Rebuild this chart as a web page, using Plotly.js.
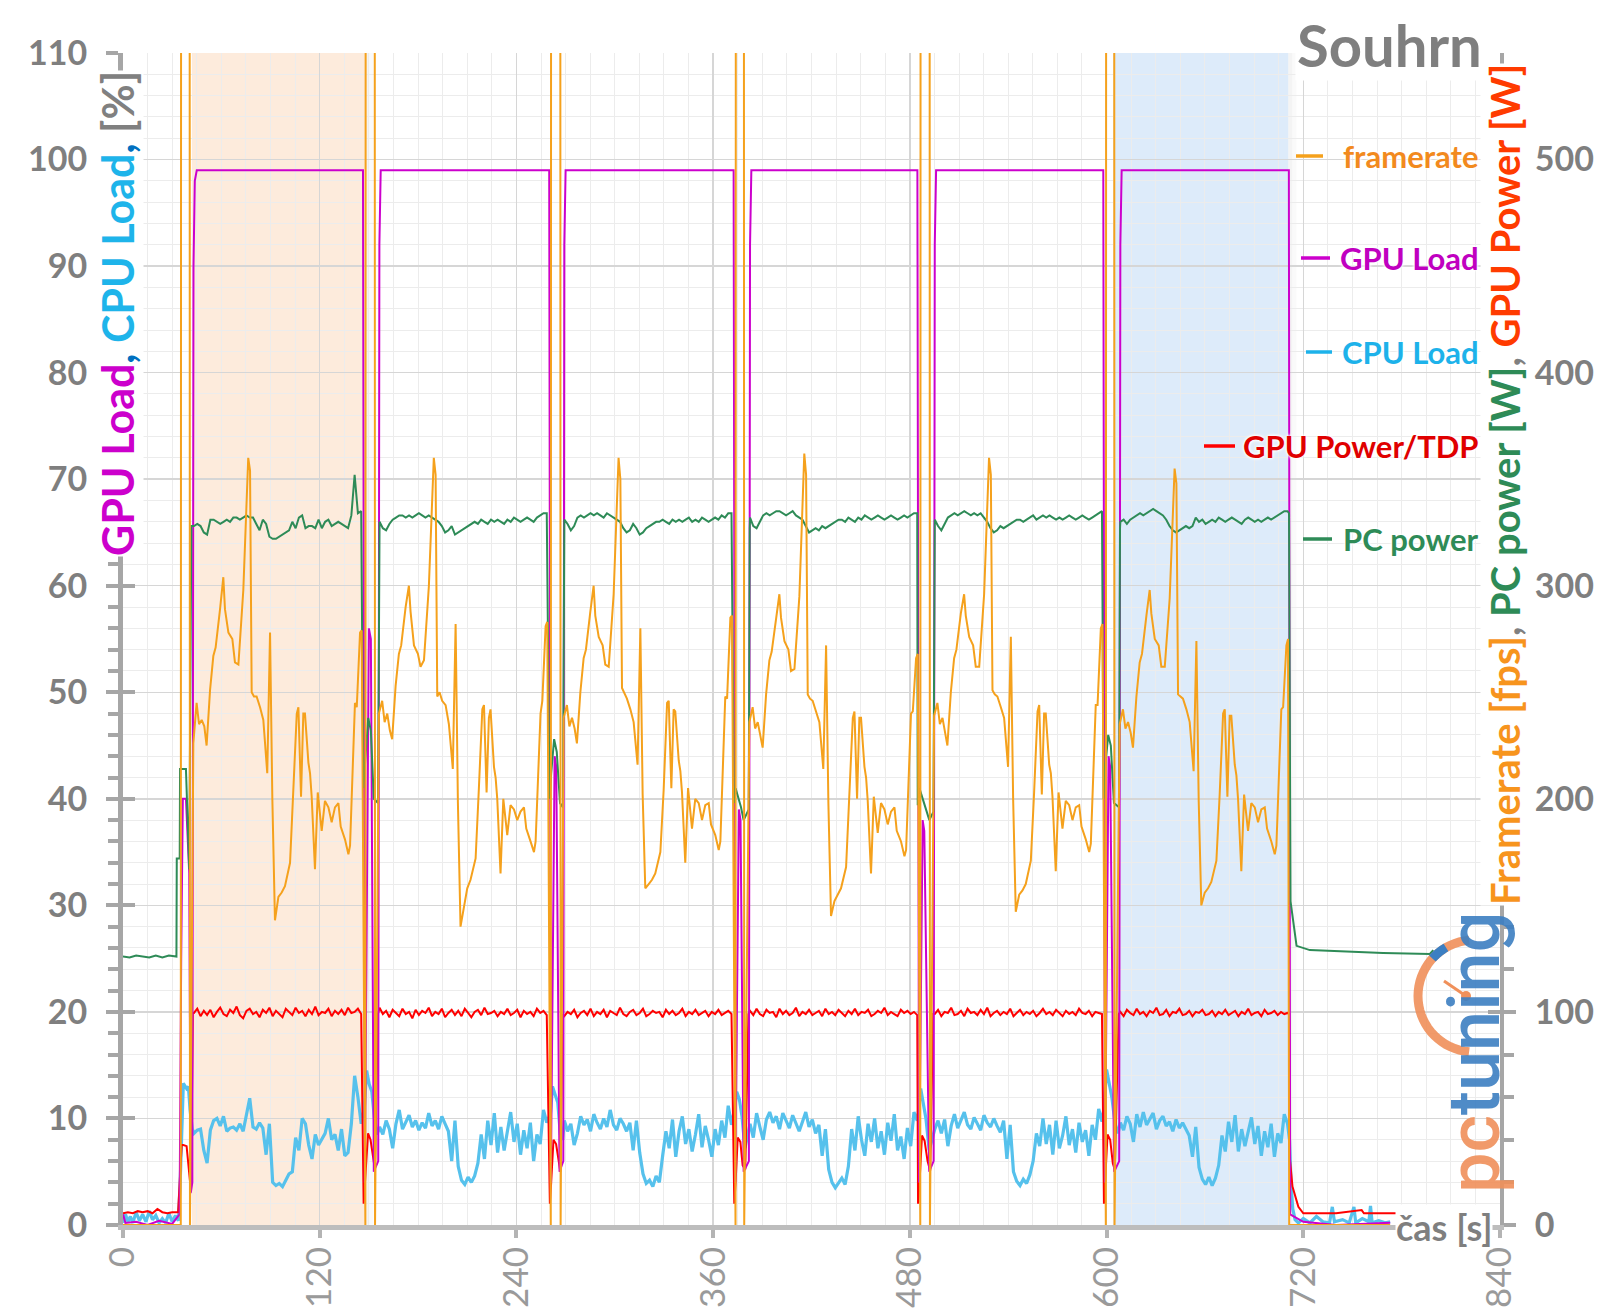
<!DOCTYPE html>
<html><head><meta charset="utf-8">
<script src="https://cdn.plot.ly/plotly-3.0.1.min.js"></script>
<style>html,body{margin:0;padding:0;background:#fff}#chart{width:1600px;height:1313px}</style>
</head><body><div id="chart"></div>
<script>
// ---------------- DATA ----------------
// time axis ticks
const xTicks = [0, 120, 240, 360, 480, 600, 720, 840];
// benchmark runs: GPU-load plateau start / end [s]
const runStart = [43.3, 156.5, 269.2, 382.5, 495.2, 608.4];
const runEnd = [146.4, 260.0, 372.5, 484.6, 598.0, 711.2];
// loading screens: framerate jumps far above the scale
const spikeOn = [35.4, 148.0, 261.1, 373.8, 486.5, 599.7];
const spikeOff = [40.7, 153.6, 266.8, 378.8, 492.1, 604.7];
const loadingFps = [1000, 1000, 1000, 1000, 1000, 1000];
// shaded runs
const shadeOrange = [42, 147.8];
const shadeBlue = [604, 710.8];

// framerate vertices: seconds after run start, and fps per run
const fpsOff = [-0.4,1.6,3.1,4.7,6.3,7.7,9.8,11.8,13.2,15.9,17.9,18.9,21.0,23.4,25.0,27.1,30.1,33.1,34.2,35.2,36.6,38.2,40.3,42.3,44.7,46.4,47.8,49.4,51.5,53.5,55.5,58.6,60.6,62.7,63.7,65.3,66.7,67.7,69.8,70.8,71.8,73.8,75.5,77.9,79.9,82.0,84.0,86.0,88.1,89.5,92.1,94.2,95.2,98.2,99.3,101.3,102.3];
const fps1 = [226,245,235,237,234,225,251,267,271,289,304,289,278,275,264,263,298,360,354,250,248,248,243,237,212,278,200,143,154,156,159,170,201,240,243,201,240,240,217,212,201,167,203,185,199,196,189,196,198,187,181,174,178,245,243,278,279];
const fps2 = [240,246,236,240,232,228,253,268,272,290,300,288,272,268,262,265,300,360,352,248,250,246,244,235,214,282,198,140,150,158,162,172,205,242,244,203,238,242,215,210,200,165,200,183,197,195,190,194,196,186,180,175,180,240,246,281,283];
const fps3 = [238,244,234,238,233,226,250,266,270,288,300,286,276,272,263,262,296,360,350,252,250,247,242,236,216,280,202,158,160,162,165,175,204,245,246,205,242,241,218,213,203,170,205,186,200,198,190,197,198,188,183,176,180,248,247,285,286];
const fps4 = [236,243,233,236,230,224,249,265,269,286,296,285,274,270,260,261,295,362,352,249,247,246,241,236,214,272,198,145,152,155,158,168,200,238,241,200,238,238,215,210,199,165,201,184,198,195,188,194,196,185,180,173,176,240,241,266,268];
const fps5 = [239,245,235,238,232,225,250,266,270,287,296,286,276,272,262,262,296,360,352,251,249,248,243,238,215,276,200,147,155,157,160,171,203,241,244,202,240,240,216,212,201,166,203,186,199,197,190,196,197,187,181,175,179,244,244,280,282];
const fps6 = [235,242,233,236,231,224,248,264,268,286,298,287,275,272,262,262,294,355,348,249,248,247,242,236,213,274,199,150,156,158,161,171,202,240,242,201,239,239,216,211,200,166,202,185,198,196,189,195,196,186,180,174,178,242,243,272,275];
const fpsEndT = [711.4, 773];
const fpsEndV = [0, 0];

// GPU load [%]
const gpuLoadT = [0,1.5,8,15,22,30,33.5,34.5,35.5,36.5,38.4,40.4,41.3,42.3,43.0,43.8,45,
  146.4,147.5,150.0,151.2,153.0,155.7,156.4,157.2,
  260.0,261.0,263.3,264.3,266.3,268.6,269.2,270.0,
  372.5,373.5,375.7,376.7,378.6,381.8,382.5,383.3,
  484.6,485.6,487.8,488.8,491.8,494.5,495.2,496.0,
  598.0,599.0,601.2,602.2,604.6,607.7,608.4,609.2,
  711.2,712.0,720,740,773];
const gpuLoadV = [1.0,0.2,0.3,0,0.4,0.1,0.8,1.0,25,40,40,33,3,4,90,98,99,
  99,4,56,55,5,6,92,99,
  99,4,44,43,5,6,92,99,
  99,4,39,38,5,6,92,99,
  99,4,38,37,5,6,92,99,
  99,4,44,43,5,6,92,99,
  99,1,0.3,0,0.2];

// PC power [W], 2 s samples from run start
const pc1 = [328,329,328,325,324,331,331,330,329,330,331,330,332,332,331,332,333,332,332,329,326,331,329,323,322,322,323,324,325,326,330,327,332,333,327,328,328,327,331,327,330,331,328,329,330,329,328,327,333,352,334,335];
const pc2 = [330,327,326,329,331,332,333,333,332,333,332,333,334,333,332,333,332,331,330,328,325,326,328,324,325,326,327,328,329,330,329,331,330,329,331,330,331,330,329,331,330,332,331,330,331,332,331,330,332,333,334,334];
const pc3 = [331,329,326,328,332,333,332,333,334,333,334,333,332,334,333,332,331,330,327,325,326,329,327,324,325,327,328,329,330,330,331,330,329,331,330,331,330,331,332,330,331,330,332,331,330,331,332,331,333,332,334,334];
const pc4 = [332,328,327,330,333,334,333,334,335,335,334,333,334,335,333,332,331,328,325,326,327,326,328,327,328,329,330,331,331,330,332,331,330,332,331,333,332,331,332,333,332,331,332,333,332,331,332,333,332,333,334,334];
const pc5 = [331,328,326,329,332,333,334,333,334,335,334,333,334,333,334,332,330,327,325,326,328,327,328,329,330,331,331,330,331,332,333,331,332,333,332,333,332,331,332,331,332,333,332,331,332,333,332,331,332,333,334,335];
const pc6 = [330,331,329,331,332,333,334,333,334,335,336,335,334,333,331,328,326,325,326,327,328,327,328,332,330,331,329,330,331,330,332,331,330,331,332,331,330,329,331,332,331,330,331,330,331,332,331,332,333,334,335,335];
const pcIdleT = [0,4,8,12,16,20,24,28,32.6,32.8,34.6,34.8,38.4,40.4,41.7];
const pcIdleV = [126,125.5,126.5,126,125.5,126.5,125.5,126.5,126,172,172,214,214,167,328];
const pcGapT = [[146.6,147.6,149.6,151.2,153.0,155.6,156.2],[260.2,261.2,263.0,264.6,266.6,268.4,269.0],[372.7,373.7,375.5,377.0,378.6,381.7,382.3],[484.8,485.8,487.8,489.5,491.9,494.4,495.0],[598.2,599.2,601.0,602.6,604.5,607.6,608.2]];
const pcGapV = [[205,215,238,232,200,198,327],[200,212,228,222,198,196,326],[198,205,200,196,190,195,327],[197,205,200,195,190,194,326],[200,215,230,225,198,196,327]];
const pcEndT = [711.3,712.2,714.2,715.9,724,744.3,768.7,797.2,799.3];
const pcEndV = [334,152,140,131,129,128.3,127.7,127.2,129];

// CPU load [%], 2 s samples from run start
const cpu1 = [8.6,8.9,9.0,7.0,5.8,8.9,9.8,10.0,9.3,10.2,8.8,9.1,9.2,8.9,9.5,8.8,10.3,11.9,9.2,9.0,9.6,9.1,6.6,9.5,4.0,3.7,3.9,3.6,4.2,4.8,5.0,8.2,7.0,10.0,9.5,7.5,6.2,8.5,7.5,8.0,8.6,10.0,8.0,8.5,7.0,9.0,6.5,6.8,9.5,14.0,12.0,9.5];
const cpu2 = [9.2,8.5,9.8,9.0,7.2,9.5,10.8,9.0,9.6,10.3,9.2,9.8,8.9,9.6,9.1,10.5,9.3,9.8,9.0,10.2,9.5,8.8,6.0,9.8,5.5,4.2,3.8,4.5,4.0,4.6,5.8,8.5,6.2,9.8,7.5,10.5,6.8,9.2,7.0,8.8,10.6,7.8,9.5,6.6,8.9,7.2,9.6,6.0,8.5,7.6,10.8,9.6];
const cpu3 = [9.8,8.8,9.5,7.5,8.6,10.2,9.4,9.9,8.8,10.4,9.6,9.0,10.0,9.2,10.8,9.4,8.9,10.0,9.5,8.8,9.6,7.0,9.8,6.8,4.8,3.9,4.2,3.6,4.6,4.0,6.5,8.8,7.2,9.9,6.4,8.8,10.2,7.6,9.0,6.9,8.5,10.4,7.3,9.3,8.0,6.4,9.0,7.5,9.8,8.2,11.2,9.4];
const cpu4 = [9.5,8.2,10.5,9.2,8.0,9.9,10.6,9.6,10.2,9.0,10.5,9.8,9.1,10.3,9.5,8.8,9.7,10.6,9.2,9.9,8.6,9.4,6.5,9.0,5.2,4.0,3.5,3.9,4.4,3.8,5.5,9.0,7.0,10.2,8.0,6.5,9.5,7.8,10.0,7.2,8.8,6.6,9.6,7.9,10.4,7.0,8.3,6.2,9.1,7.4,10.6,9.8];
const cpu5 = [9.0,9.8,8.6,9.9,7.4,9.3,10.4,9.1,9.8,10.6,9.4,9.0,10.1,9.5,8.9,10.3,9.6,9.2,10.0,9.3,8.7,9.8,6.2,9.4,5.0,4.1,3.7,4.3,3.9,4.7,6.0,8.6,7.4,10.0,7.6,9.4,6.6,9.8,7.2,8.4,10.2,7.5,9.0,6.8,9.6,7.8,8.9,6.5,9.4,8.0,10.9,9.7];
const cpu6 = [9.6,8.9,10.2,9.5,7.8,10.4,9.2,10.6,9.4,9.9,10.5,9.0,9.8,10.2,9.3,9.7,8.8,9.9,9.1,9.6,9.0,8.4,6.4,9.2,5.4,4.3,3.8,4.5,3.7,4.4,5.6,8.4,6.9,9.7,7.8,10.3,6.9,9.0,7.4,8.7,10.1,7.6,9.3,6.5,8.8,7.3,9.5,6.4,8.6,7.7,10.4,9.5];
const cpuIdleT = [0,1.5,3,4.5,6,8,10,12,14,16,18,20,22,24,26,28,30,32,33.8,34.8,36.8,38.8,39.9,40.9,42.3];
const cpuIdleV = [0.2,1.0,0.3,0.8,0.2,1.2,0.4,1.0,0.3,1.3,0.5,0.9,0.2,0.6,0.2,1.1,0.3,0.9,0.4,3.6,13.3,12.8,13.0,10.8,9.0];
const cpuGapT = [[147.2,148.6,150.2,151.8,153.4,155.0],[260.8,262.0,263.6,265.2,266.8,268.2],[373.0,374.4,376.0,377.6,379.4,381.2],[485.2,486.6,488.2,489.8,491.8,493.8],[598.6,600.0,601.6,603.2,605.2,607.0]];
const cpuGapV = [[11,14.5,13.2,12.5,10.0,8.5],[10.5,13.0,12.2,11.5,8.5,8.0],[10.8,12.5,11.8,10.2,7.2,8.4],[10.6,12.8,11.4,10.0,7.0,8.2],[11.2,14.6,13.4,12.0,9.5,8.6]];
const cpuEndT = [711.6,712.6,713.6,715,717,720,724,728,732,736,737.7,739,744,748,750.9,752,756,760,761,762,766,770,773];
const cpuEndV = [8,3.6,1.5,0.5,0.2,0.6,0.2,0.8,0.3,0.2,1.7,0.3,0.5,0.2,1.7,0.2,0.6,0.3,1.8,0.2,0.4,0.2,0.3];

// GPU power / TDP [%], 2 s samples from run start
const gp1 = [19.9,20.3,19.6,20.1,19.7,20.2,19.5,20.0,20.4,19.8,19.6,20.2,19.9,20.5,19.7,19.4,20.1,20.3,19.8,20.0,19.5,20.2,19.9,20.4,19.6,20.1,19.8,19.5,20.3,20.0,19.7,20.4,19.9,20.1,19.6,20.2,19.8,20.5,19.7,20.0,19.9,20.3,19.6,20.1,19.8,20.2,19.7,20.4,19.9,20.0,20.3,19.8];
const gp2 = [20.4,19.8,20.1,19.5,20.2,19.9,19.6,20.3,19.8,20.0,19.4,20.2,19.7,20.1,19.9,20.4,19.6,20.0,19.8,20.3,19.5,19.9,20.2,19.7,20.1,19.6,20.3,19.9,19.5,20.0,20.2,19.7,20.4,19.8,19.9,20.1,19.6,20.0,19.8,20.3,19.7,19.9,20.2,19.5,20.1,19.8,20.0,19.6,20.3,19.9,20.1,19.7];
const gp3 = [19.6,20.0,19.8,20.2,19.5,19.9,20.1,19.7,20.3,19.6,20.0,19.8,20.2,19.5,20.1,19.9,19.7,20.4,19.8,19.6,20.0,20.2,19.7,19.9,20.3,19.6,19.8,20.1,19.9,20.0,19.5,20.2,19.8,20.1,19.7,19.9,20.3,19.6,20.0,19.8,20.2,19.7,19.9,20.1,19.6,20.0,19.8,20.2,19.7,19.9,20.1,19.8];
const gp4 = [20.1,19.7,20.3,19.8,19.6,20.2,19.9,20.0,19.5,20.3,19.8,20.1,19.7,19.9,20.4,19.6,20.0,19.8,20.2,19.7,19.9,20.1,19.6,20.3,19.8,20.0,19.7,20.2,19.9,19.6,20.1,19.8,20.3,19.7,20.0,19.9,20.2,19.6,19.8,20.1,19.9,20.4,19.7,20.0,19.8,19.6,20.2,19.9,20.1,19.8,20.0,19.7];
const gp5 = [19.8,20.2,19.6,20.0,19.9,20.4,19.7,19.8,20.1,19.6,20.3,19.9,20.0,19.7,20.2,19.8,20.4,19.6,19.9,20.1,19.7,20.0,19.8,20.3,19.6,19.9,20.2,19.7,20.0,19.8,20.1,19.6,19.9,20.3,19.8,20.0,19.7,20.2,19.9,19.6,20.1,19.8,20.0,19.7,20.3,19.9,19.8,20.1,19.6,20.0,19.9,19.8];
const gp6 = [20.0,19.6,20.2,19.9,19.7,20.3,19.8,20.0,19.6,20.1,19.9,20.4,19.7,19.8,20.2,19.6,20.0,19.9,20.3,19.7,19.8,20.1,19.6,20.0,19.9,20.2,19.7,19.8,20.1,19.6,20.0,19.8,20.2,19.7,19.9,20.1,19.6,20.0,19.8,20.3,19.7,19.9,20.0,19.6,20.2,19.8,19.9,20.1,19.7,20.0,19.8,19.9];
const gpIdleT = [0,3,6,9,12,15,18,21,24,27,30,33.6,35.8,36.8,38.8,41.5,42.6];
const gpIdleV = [1.1,1.2,1.1,1.3,1.2,1.3,1.1,1.5,1.2,1.1,1.2,1.2,7.5,7.5,7.4,3.1,19.9];
const gpGapT = [[146.8,147.6,149.5,151.0,152.7,153.7,155.5],[260.4,261.2,262.6,264.2,265.8,266.8,268.2],[372.9,373.7,375.0,376.6,378.0,379.6,381.5],[485.0,485.9,487.4,489.0,490.8,492.4,494.2],[598.4,599.2,600.6,602.2,603.8,605.0,607.4]];
const gpGapV = [[2,4,8.6,8.0,6.0,5.2,19.8],[2,4,8.0,7.6,5.8,5.0,19.8],[2,4,8.2,7.8,5.6,5.2,19.8],[2,4,8.4,7.9,6.0,5.1,19.8],[2,4,8.5,8.0,5.8,5.2,19.8]];
const gpEndT = [711.4,711.9,713.4,717,720,730,740,755.6,757,765,773,785,799];
const gpEndV = [19.8,6.1,3.6,1.7,1.1,1.1,1.1,1.4,1.1,1.1,1.1,1.1,1.1];

// ---------------- BUILD SERIES ----------------
const STEP = 2;
function sampled(runs, idleT, idleV, gapT, gapV, endT, endV) {
  const x = [...idleT], y = [...idleV];
  runs.forEach((vals, k) => {
    vals.forEach((v, i) => { x.push(runStart[k] + i * STEP); y.push(v); });
    if (k < gapT.length) { x.push(...gapT[k]); y.push(...gapV[k]); }
  });
  x.push(...endT); y.push(...endV);
  return {x, y};
}
const pcS = sampled([pc1,pc2,pc3,pc4,pc5,pc6], pcIdleT, pcIdleV, pcGapT, pcGapV, pcEndT, pcEndV);
const cpuS = sampled([cpu1,cpu2,cpu3,cpu4,cpu5,cpu6], cpuIdleT, cpuIdleV, cpuGapT, cpuGapV, cpuEndT, cpuEndV);
const gpS = sampled([gp1,gp2,gp3,gp4,gp5,gp6], gpIdleT, gpIdleV, gpGapT, gpGapV, gpEndT, gpEndV);

const fpsRuns = [fps1,fps2,fps3,fps4,fps5,fps6];
const fx = [0], fy = [0];
fpsRuns.forEach((vals, k) => {
  fx.push(spikeOn[k]-0.15, spikeOn[k]+0.15, spikeOff[k]-0.15, spikeOff[k]+0.15);
  fy.push(0, loadingFps[k], loadingFps[k], 0);
  vals.forEach((v, i) => { fx.push(runStart[k] + fpsOff[i]); fy.push(v); });
});
fx.push(...fpsEndT); fy.push(...fpsEndV);

// ---------------- STYLE ----------------
const COL = {fps:'#F5A11C', gpuLoad:'#CC00CC', cpu:'#56C1EC', gpuPow:'#FF0000', pc:'#2E8B57'};
const FONT = 'Lato, "Open Sans", sans-serif';
const GRAY = '#7f7f7f';
const L = 123, R = 100, T = 53, B = 88, W = 1600, H = 1313;
const PW = W - L - R, PH = H - T - B;
const px = v => (v - L) / PW;       // pixel -> paper x (decorations only)
const py = v => (H - B - v) / PH;   // pixel -> paper y (decorations only)

const traces = [
  {x: cpuS.x, y: cpuS.y, yaxis:'y', mode:'lines', line:{color:COL.cpu, width:3.2}, name:'CPU Load'},
  {x: pcS.x, y: pcS.y, yaxis:'y2', mode:'lines', line:{color:COL.pc, width:2}, name:'PC power'},
  {x: gpS.x, y: gpS.y, yaxis:'y', mode:'lines', line:{color:COL.gpuPow, width:2}, name:'GPU Power/TDP'},
  {x: gpuLoadT, y: gpuLoadV, yaxis:'y', mode:'lines', line:{color:COL.gpuLoad, width:2}, name:'GPU Load'},
  {x: fx, y: fy, yaxis:'y2', mode:'lines', line:{color:COL.fps, width:2}, name:'framerate'}
];

const tickFont = {family: FONT, size: 34, color: GRAY, weight: 700};

const shapes = [
  {type:'rect', xref:'x', yref:'paper', x0:shadeOrange[0], x1:shadeOrange[1], y0:0, y1:1, fillcolor:'#FDEBDC', line:{width:0}, layer:'below'},
  {type:'rect', xref:'x', yref:'paper', x0:shadeBlue[0], x1:shadeBlue[1], y0:0, y1:1, fillcolor:'#DDEBFA', line:{width:0}, layer:'below'}
];
// soft shadow to the right of each shaded band
[shadeOrange, shadeBlue].forEach(s => {
  shapes.push({type:'rect', xref:'x', yref:'paper', x0:s[1], x1:s[1]+2.5, y0:0, y1:1, fillcolor:'rgba(0,0,0,0.045)', line:{width:0}, layer:'below'});
  shapes.push({type:'rect', xref:'x', yref:'paper', x0:s[1]+2.5, x1:s[1]+5, y0:0, y1:1, fillcolor:'rgba(0,0,0,0.02)', line:{width:0}, layer:'below'});
});
// legend dashes
const legendItems = [
  {name:'framerate', color:'#F28A1E', line:COL.fps, y:156, d0:1296, d1:1323},
  {name:'GPU Load', color:'#C000C0', line:COL.gpuLoad, y:258, d0:1301, d1:1330},
  {name:'CPU Load', color:'#1DB2EA', line:'#1DB2EA', y:352, d0:1306, d1:1332},
  {name:'GPU Power/TDP', color:'#E00000', line:COL.gpuPow, y:446, d0:1204, d1:1235},
  {name:'PC power', color:'#2E8B57', line:COL.pc, y:539, d0:1303, d1:1332}
];
legendItems.forEach(it => shapes.push({type:'line', xref:'paper', yref:'paper', x0:px(it.d0), x1:px(it.d1), y0:py(it.y), y1:py(it.y), line:{color:it.line, width:3.5}, layer:'above'}));

// pctuning gauge arc (decoration)
(function(){
  const cx = 1474, cy = 996, r = 56;
  let p = '';
  for (let a = 95; a <= 265; a += 5) {
    const t = a * Math.PI / 180;
    const X = px(cx + r * Math.cos(t)), Y = py(cy + r * Math.sin(t));
    p += (p ? ' L ' : 'M ') + X.toFixed(5) + ',' + Y.toFixed(5);
  }
  shapes.push({type:'path', xref:'paper', yref:'paper', path:p, line:{color:'#F0905A', width:9}, layer:'above', opacity:0.9});
  let q = '';
  for (let a = 222; a <= 240; a += 3) {
    const t = a * Math.PI / 180;
    q += (q ? ' L ' : 'M ') + px(cx + r * Math.cos(t)).toFixed(5) + ',' + py(cy + r * Math.sin(t)).toFixed(5);
  }
  shapes.push({type:'path', xref:'paper', yref:'paper', path:q, line:{color:'#3C7FC2', width:9}, layer:'above'});
  shapes.push({type:'line', xref:'paper', yref:'paper', x0:px(1444), y0:py(981), x1:px(1466), y1:py(996), line:{color:'#F0905A', width:3}, layer:'above'});
  shapes.push({type:'circle', xref:'paper', yref:'paper', x0:px(1461), x1:px(1471), y0:py(1001), y1:py(991), fillcolor:'#F0905A', line:{width:0}, layer:'above'});
})();

const shadow = '0 0 3px #fff, 0 0 3px #fff, 0 0 4px #fff';
const annotations = [
  {xref:'paper', yref:'paper', x:px(117), y:py(314), textangle:-90, showarrow:false, xanchor:'center', yanchor:'middle',
   bgcolor:'#ffffff', borderpad:0,
   text:'<span style="color:#CC00CC">GPU Load</span><span style="color:#0070C0">, </span><span style="color:#1EB4EA">CPU Load</span><span style="color:#0070C0">, </span><span style="color:#808080">[%]</span>',
   font:{family:FONT, size:43, weight:700}},
  {xref:'paper', yref:'paper', x:px(1505), y:py(485), textangle:-90, showarrow:false, xanchor:'center', yanchor:'middle',
   bgcolor:'#ffffff', borderpad:0,
   text:'<span style="color:#F7941D">Framerate [fps]</span><span style="color:#808080">, </span><span style="color:#2E8B57">PC power [W]</span><span style="color:#808080">, </span><span style="color:#FF3B00">GPU Power [W]</span>',
   font:{family:FONT, size:40, weight:700}},
  {xref:'paper', yref:'paper', x:px(1389), y:py(44), showarrow:false, xanchor:'center', yanchor:'middle', bgcolor:'#ffffff',
   text:'Souhrn', font:{family:FONT, size:58, weight:700, color:GRAY}},
  {xref:'paper', yref:'paper', x:px(1444), y:py(1227), showarrow:false, xanchor:'center', yanchor:'middle', bgcolor:'#ffffff', borderpad:0,
   text:'čas [s]', font:{family:FONT, size:36, weight:700, color:GRAY}},
  {xref:'paper', yref:'paper', x:px(1474), y:py(1053), textangle:-90, showarrow:false, xanchor:'center', yanchor:'middle', opacity:0.9,
   text:'<span style="color:#F0905A">pc</span><span style="color:#3C7FC2">tuning</span>', font:{family:'Roboto, sans-serif', size:72, weight:500}}
];
legendItems.forEach(it => annotations.push({xref:'paper', yref:'paper', x:px(1481), y:py(it.y), xanchor:'right', yanchor:'middle', showarrow:false,
  text:it.name, font:{family:FONT, size:31, weight:700, color:it.color, shadow:shadow}}));

const axLine = '#a6a6a6';
const layout = {
  width: W, height: H,
  margin: {l:L, r:R, t:T, b:B, pad:0},
  paper_bgcolor:'#ffffff', plot_bgcolor:'#ffffff',
  showlegend:false,
  xaxis: {range:[0,840], tickvals:xTicks, ticktext:xTicks.map(String), tickangle:-90,
    ticks:'outside', ticklen:8, tickwidth:4, tickcolor:'#b4b4b4',
    showline:true, linecolor:'#bdbdbd', linewidth:5, zeroline:false,
    showgrid:true, gridcolor:'#d6d6d6', gridwidth:1.5,
    minor:{dtick:15, tick0:0, showgrid:true, gridcolor:'#ececec', gridwidth:1, ticks:''},
    tickfont:{family:FONT, size:35, color:'#9a9a9a'}, ticklabelstandoff:-5},
  yaxis: {range:[0,110], dtick:10, tick0:0,
    ticks:'outside', ticklen:12, tickwidth:4, tickcolor:axLine,
    showline:true, linecolor:axLine, linewidth:5, zeroline:false,
    showgrid:true, gridcolor:'#d6d6d6', gridwidth:1.5,
    minor:{dtick:2, tick0:0, ticks:'outside', ticklen:10, tickwidth:4, tickcolor:axLine, showgrid:true, gridcolor:'#ececec', gridwidth:1},
    tickfont:tickFont, ticklabelstandoff:12},
  yaxis2: {range:[0,550], dtick:100, tick0:0, overlaying:'y', side:'right', anchor:'x',
    ticks:'outside', ticklen:12, tickwidth:4, tickcolor:axLine,
    showline:true, linecolor:axLine, linewidth:4, zeroline:false, showgrid:false,
    minor:{dtick:20, tick0:0, ticks:'outside', ticklen:10, tickwidth:4, tickcolor:axLine, showgrid:false},
    tickfont:tickFont, ticklabelstandoff:12},
  yaxis3: {range:[0,110], dtick:10, tick0:0, overlaying:'y', side:'left', anchor:'x',
    ticks:'inside', ticklen:12, tickwidth:4, tickcolor:axLine, showticklabels:false, showgrid:false, showline:false, zeroline:false},
  yaxis4: {range:[0,550], dtick:100, tick0:0, overlaying:'y', side:'right', anchor:'x',
    ticks:'inside', ticklen:12, tickwidth:4, tickcolor:axLine, showticklabels:false, showgrid:false, showline:false, zeroline:false},
  shapes: shapes,
  annotations: annotations
};
traces.push({x:[0], y:[-10], yaxis:'y3', mode:'lines', hoverinfo:'skip', showlegend:false});
traces.push({x:[0], y:[-10], yaxis:'y4', mode:'lines', hoverinfo:'skip', showlegend:false});

Plotly.newPlot('chart', traces, layout, {displayModeBar:false, staticPlot:true});
</script></body></html>
